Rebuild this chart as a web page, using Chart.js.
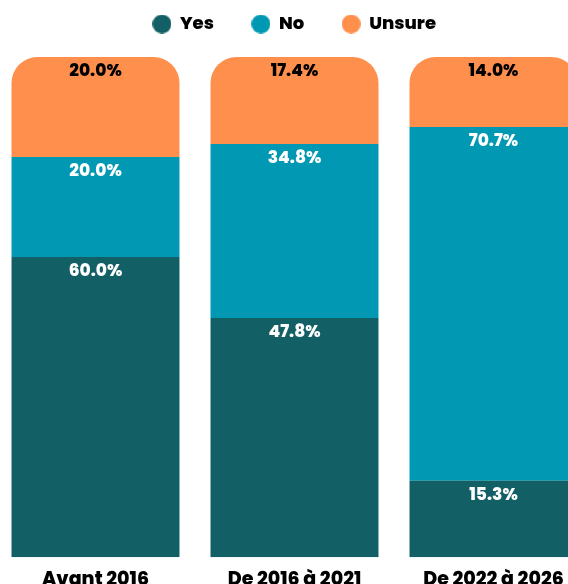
<!DOCTYPE html>
<html lang="fr">
<head>
  <meta charset="UTF-8">
  <title>Yes / No / Unsure</title>
  <script src="https://cdn.jsdelivr.net/npm/chart.js"></script>
  <style>
    html, body {
      margin: 0;
      padding: 0;
      background: #fff;
      overflow: hidden;
    }
    #wrap {
      position: absolute;
      left: -4px;
      top: -23px;
      width: 597px;
      height: 619px;
    }
  </style>
</head>
<body>
  <div id="wrap"><canvas id="grafico"></canvas></div>

  <script>
    const categories = ['Avant 2016', 'De 2016 à 2021', 'De 2022 à 2026'];
    const yesValues = [60.0, 47.8, 15.3];
    const noValues = [20.0, 34.8, 70.7];
    const unsureValues = [20.0, 17.4, 14.0];

    const FONT = 'Poppins, Inter, "Open Sans", sans-serif';

    // petit rond de couleur pour la légende
    function rond(couleur) {
      const c = document.createElement('canvas');
      c.width = 19;
      c.height = 19;
      const g = c.getContext('2d');
      g.fillStyle = couleur;
      g.beginPath();
      g.arc(9.5, 9.5, 9.5, 0, Math.PI * 2);
      g.fill();
      return c;
    }

    // écrit la valeur en haut de chaque segment
    const etiquettes = {
      id: 'etiquettes',
      afterDatasetsDraw(chart) {
        const ctx = chart.ctx;
        ctx.save();
        ctx.font = '800 17px ' + FONT;
        ctx.textAlign = 'center';
        ctx.textBaseline = 'middle';
        chart.data.datasets.forEach((ds, i) => {
          const meta = chart.getDatasetMeta(i);
          meta.data.forEach((bar, j) => {
            ctx.fillStyle = ds.labelColor;
            ctx.fillText(ds.data[j].toFixed(1) + '%', bar.x, bar.y + 15);
          });
        });
        ctx.restore();
      }
    };

    // un peu plus d'espace sous la légende
    const espaceLegende = {
      id: 'espaceLegende',
      beforeInit(chart) {
        const fit = chart.legend.fit;
        chart.legend.fit = function () {
          fit.bind(this)();
          this.height += 14;
        };
      }
    };

    const ctx = document.getElementById('grafico').getContext('2d');
    const chart = new Chart(ctx, {
      type: 'bar',
      data: {
        labels: categories,
        datasets: [
          { label: 'Yes', data: yesValues, backgroundColor: '#125F66', labelColor: '#fff' },
          { label: 'No', data: noValues, backgroundColor: '#0098B2', labelColor: '#fff' },
          {
            label: 'Unsure', data: unsureValues, backgroundColor: '#FF8F4C', labelColor: '#000',
            borderRadius: { topLeft: 26, topRight: 26, bottomLeft: 0, bottomRight: 0 },
            borderSkipped: false
          }
        ]
      },
      options: {
        responsive: true,
        maintainAspectRatio: false,
        animation: false,
        datasets: {
          bar: { barPercentage: 1, categoryPercentage: 0.844 }
        },
        layout: { padding: 0 },
        scales: {
          x: {
            stacked: true,
            grid: { display: false },
            border: { display: false },
            ticks: { color: '#000', padding: 4, font: { family: FONT, size: 19, weight: '800' } }
          },
          y: {
            stacked: true,
            display: false,
            min: 0,
            max: 100
          }
        },
        plugins: {
          legend: {
            labels: {
              usePointStyle: true,
              boxWidth: 19,
              boxHeight: 19,
              padding: 38,
              color: '#000',
              font: { family: FONT, size: 18, weight: '800' },
              generateLabels(chart) {
                const items = Chart.defaults.plugins.legend.labels.generateLabels(chart);
                items.forEach(it => {
                  it.pointStyle = rond(chart.data.datasets[it.datasetIndex].backgroundColor);
                  it.lineWidth = 0;
                });
                return items;
              }
            }
          },
          tooltip: { enabled: false }
        }
      },
      plugins: [etiquettes, espaceLegende]
    });
  </script>
</body>
</html>
